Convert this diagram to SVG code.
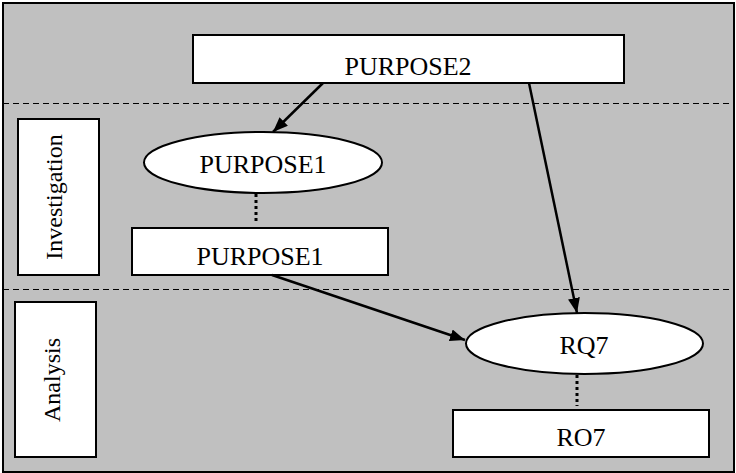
<svg xmlns="http://www.w3.org/2000/svg" width="736" height="473" viewBox="0 0 736 473">
<style>
.node{fill:#fff;stroke:#000;stroke-width:2}
.t{font-family:"Liberation Serif","Times New Roman",serif;font-size:26px;fill:#000;text-anchor:middle}
.lab{font-family:"Liberation Serif","Times New Roman",serif;font-size:24px;fill:#000;text-anchor:middle}
.arrow{stroke:#000;stroke-width:2.5;fill:none;marker-end:url(#ah)}
.dot{stroke:#000;stroke-width:3;stroke-dasharray:3 3;fill:none}
.sep{stroke:#000;stroke-width:1;stroke-dasharray:6 4;fill:none}
</style>
<defs>
<marker id="ah" markerUnits="userSpaceOnUse" markerWidth="16" markerHeight="12" refX="15" refY="6" orient="auto">
<path d="M0,0 L15,6 L0,12 z" fill="#000"/>
</marker>
</defs>
<rect x="3" y="3" width="731" height="469" fill="#c0c0c0" stroke="#000" stroke-width="2"/>
<line class="sep" x1="3" y1="103.5" x2="734" y2="103.5"/>
<line class="sep" x1="3" y1="289.5" x2="734" y2="289.5"/>
<g id="lane-investigation">
<rect class="node" x="18" y="119" width="81" height="156"/>
<text class="lab" transform="translate(62,197) rotate(-90)">Investigation</text>
</g>
<g id="lane-analysis">
<rect class="node" x="15" y="302" width="81" height="155"/>
<text class="lab" transform="translate(60,380) rotate(-90)">Analysis</text>
</g>
<g id="purpose2">
<rect class="node" x="193" y="35" width="431" height="48"/>
<text class="t" x="408" y="75">PURPOSE2</text>
</g>
<g id="purpose1-ellipse">
<ellipse class="node" cx="263" cy="162.5" rx="119" ry="30.5"/>
<text class="t" x="263" y="173">PURPOSE1</text>
</g>
<g id="purpose1-rect">
<rect class="node" x="132" y="228" width="256" height="47"/>
<text class="t" x="260" y="265">PURPOSE1</text>
</g>
<g id="rq7">
<ellipse class="node" cx="584.5" cy="343.5" rx="118.5" ry="30.5"/>
<text class="t" x="584" y="354">RQ7</text>
</g>
<g id="ro7">
<rect class="node" x="453" y="410" width="256" height="47"/>
<text class="t" x="581" y="446">RO7</text>
</g>
<g id="connectors">
<line class="arrow" x1="323" y1="83" x2="273" y2="132"/>
<line class="arrow" x1="529" y1="83" x2="577" y2="313"/>
<line class="arrow" x1="272" y1="275" x2="465" y2="340"/>
<line class="dot" x1="256" y1="194" x2="256" y2="224"/>
<line class="dot" x1="577" y1="375" x2="577" y2="406"/>
</g>
</svg>
